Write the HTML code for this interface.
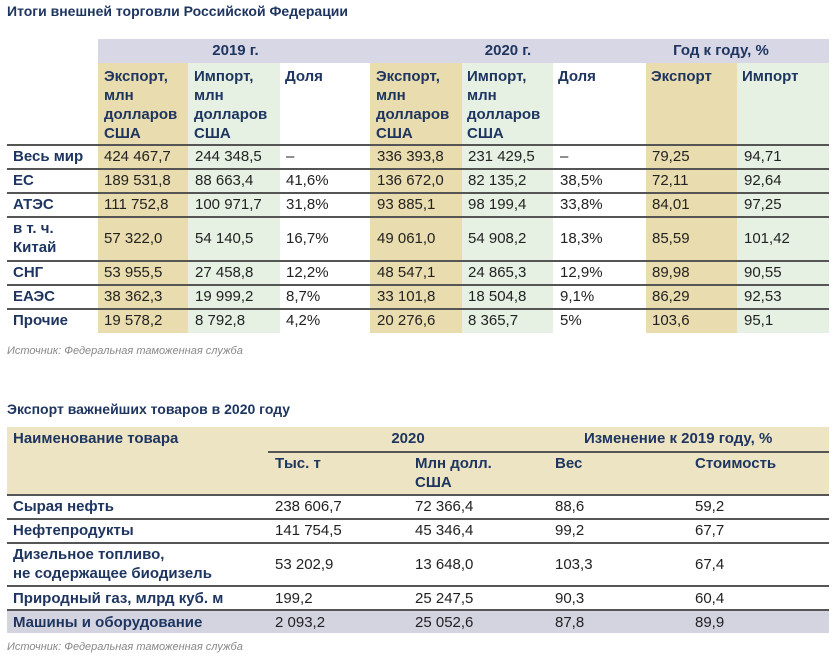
<!DOCTYPE html>
<html><head><meta charset="utf-8"><style>
body{margin:0;width:840px;height:667px;background:#fff;position:relative;overflow:hidden;font-family:"Liberation Sans","DejaVu Sans",sans-serif;}
div{position:absolute;white-space:nowrap;}
.t{font-size:15px;line-height:19px;color:#222;}
.h{font-size:15px;line-height:19px;color:#1e3560;font-weight:bold;}
.ln{height:1.5px;background:#555;left:7px;width:822px;}
.src{font-size:11px;font-style:italic;color:#888;}
</style></head><body>
<div class="h" style="left:7px;top:2px;font-size:14px;">Итоги внешней торговли Российской Федерации</div>
<!-- top header band -->
<div style="left:98px;top:39px;width:731px;height:24px;background:#d7d7e6;"></div>
<div style="left:98px;top:63px;width:90px;height:270px;background:#e9dcae;"></div>
<div style="left:188px;top:63px;width:92px;height:270px;background:#e6f1e4;"></div>
<div style="left:370px;top:63px;width:92px;height:270px;background:#e9dcae;"></div>
<div style="left:462px;top:63px;width:91px;height:270px;background:#e6f1e4;"></div>
<div style="left:646px;top:63px;width:91px;height:270px;background:#e9dcae;"></div>
<div style="left:737px;top:63px;width:92px;height:270px;background:#e6f1e4;"></div>
<div class="h" style="left:98px;width:275px;text-align:center;top:41px;">2019 г.</div>
<div class="h" style="left:370px;width:276px;text-align:center;top:41px;">2020 г.</div>
<div class="h" style="left:646px;width:150px;text-align:center;top:41px;">Год к году, %</div>
<div class="h" style="left:104px;top:67px;">Экспорт,<br>млн<br>долларов<br>США</div>
<div class="h" style="left:194px;top:67px;">Импорт,<br>млн<br>долларов<br>США</div>
<div class="h" style="left:285px;top:67px;">Доля</div>
<div class="h" style="left:376px;top:67px;">Экспорт,<br>млн<br>долларов<br>США</div>
<div class="h" style="left:467px;top:67px;">Импорт,<br>млн<br>долларов<br>США</div>
<div class="h" style="left:558px;top:67px;">Доля</div>
<div class="h" style="left:651px;top:67px;">Экспорт</div>
<div class="h" style="left:742px;top:67px;">Импорт</div>
<div class="ln" style="top:144px;"></div>
<div class="ln" style="top:168px;"></div>
<div class="ln" style="top:192px;"></div>
<div class="ln" style="top:216px;"></div>
<div class="ln" style="top:260px;"></div>
<div class="ln" style="top:284px;"></div>
<div class="ln" style="top:308px;"></div>
<!-- rows -->
<div class="h" style="left:13px;top:147px;">Весь мир</div>
<div class="h" style="left:13px;top:171px;">ЕС</div>
<div class="h" style="left:13px;top:195px;">АТЭС</div>
<div class="h" style="left:13px;top:219px;">в т. ч.<br>Китай</div>
<div class="h" style="left:13px;top:263px;">СНГ</div>
<div class="h" style="left:13px;top:287px;">ЕАЭС</div>
<div class="h" style="left:13px;top:311px;">Прочие</div>

<div class="t" style="left:104px;top:147px;">424 467,7</div>
<div class="t" style="left:104px;top:171px;">189 531,8</div>
<div class="t" style="left:104px;top:195px;">111 752,8</div>
<div class="t" style="left:104px;top:229px;">57 322,0</div>
<div class="t" style="left:104px;top:263px;">53 955,5</div>
<div class="t" style="left:104px;top:287px;">38 362,3</div>
<div class="t" style="left:104px;top:311px;">19 578,2</div>

<div class="t" style="left:195px;top:147px;">244 348,5</div>
<div class="t" style="left:195px;top:171px;">88 663,4</div>
<div class="t" style="left:195px;top:195px;">100 971,7</div>
<div class="t" style="left:195px;top:229px;">54 140,5</div>
<div class="t" style="left:195px;top:263px;">27 458,8</div>
<div class="t" style="left:195px;top:287px;">19 999,2</div>
<div class="t" style="left:195px;top:311px;">8 792,8</div>

<div class="t" style="left:286px;top:147px;">–</div>
<div class="t" style="left:286px;top:171px;">41,6%</div>
<div class="t" style="left:286px;top:195px;">31,8%</div>
<div class="t" style="left:286px;top:229px;">16,7%</div>
<div class="t" style="left:286px;top:263px;">12,2%</div>
<div class="t" style="left:286px;top:287px;">8,7%</div>
<div class="t" style="left:286px;top:311px;">4,2%</div>

<div class="t" style="left:377px;top:147px;">336 393,8</div>
<div class="t" style="left:377px;top:171px;">136 672,0</div>
<div class="t" style="left:377px;top:195px;">93 885,1</div>
<div class="t" style="left:377px;top:229px;">49 061,0</div>
<div class="t" style="left:377px;top:263px;">48 547,1</div>
<div class="t" style="left:377px;top:287px;">33 101,8</div>
<div class="t" style="left:377px;top:311px;">20 276,6</div>

<div class="t" style="left:468px;top:147px;">231 429,5</div>
<div class="t" style="left:468px;top:171px;">82 135,2</div>
<div class="t" style="left:468px;top:195px;">98 199,4</div>
<div class="t" style="left:468px;top:229px;">54 908,2</div>
<div class="t" style="left:468px;top:263px;">24 865,3</div>
<div class="t" style="left:468px;top:287px;">18 504,8</div>
<div class="t" style="left:468px;top:311px;">8 365,7</div>

<div class="t" style="left:560px;top:147px;">–</div>
<div class="t" style="left:560px;top:171px;">38,5%</div>
<div class="t" style="left:560px;top:195px;">33,8%</div>
<div class="t" style="left:560px;top:229px;">18,3%</div>
<div class="t" style="left:560px;top:263px;">12,9%</div>
<div class="t" style="left:560px;top:287px;">9,1%</div>
<div class="t" style="left:560px;top:311px;">5%</div>

<div class="t" style="left:652px;top:147px;">79,25</div>
<div class="t" style="left:652px;top:171px;">72,11</div>
<div class="t" style="left:652px;top:195px;">84,01</div>
<div class="t" style="left:652px;top:229px;">85,59</div>
<div class="t" style="left:652px;top:263px;">89,98</div>
<div class="t" style="left:652px;top:287px;">86,29</div>
<div class="t" style="left:652px;top:311px;">103,6</div>

<div class="t" style="left:744px;top:147px;">94,71</div>
<div class="t" style="left:744px;top:171px;">92,64</div>
<div class="t" style="left:744px;top:195px;">97,25</div>
<div class="t" style="left:744px;top:229px;">101,42</div>
<div class="t" style="left:744px;top:263px;">90,55</div>
<div class="t" style="left:744px;top:287px;">92,53</div>
<div class="t" style="left:744px;top:311px;">95,1</div>

<div class="src" style="left:7px;top:345px;">Источник: Федеральная таможенная служба</div>

<!-- second table -->
<div class="h" style="left:7px;top:400px;font-size:14px;">Экспорт важнейших товаров в 2020 году</div>
<div style="left:7px;top:427px;width:822px;height:67px;background:#ede4c3;"></div>
<div style="left:268px;top:451px;width:561px;height:1.5px;background:#555;"></div>
<div class="h" style="left:13px;top:429px;">Наименование товара</div>
<div class="h" style="left:268px;width:280px;text-align:center;top:429px;">2020</div>
<div class="h" style="left:584px;top:429px;">Изменение к 2019 году, %</div>
<div class="h" style="left:275px;top:454px;">Тыс. т</div>
<div class="h" style="left:415px;top:454px;">Млн долл.<br>США</div>
<div class="h" style="left:555px;top:454px;">Вес</div>
<div class="h" style="left:695px;top:454px;">Стоимость</div>
<div class="ln" style="top:494px;"></div>
<div class="ln" style="top:518px;"></div>
<div class="ln" style="top:542px;"></div>
<div class="ln" style="top:585px;"></div>
<div style="left:7px;top:609px;width:822px;height:24px;background:#d4d4e1;"></div>
<div class="ln" style="top:609px;"></div>

<div class="h" style="left:13px;top:497px;">Сырая нефть</div>
<div class="h" style="left:13px;top:521px;">Нефтепродукты</div>
<div class="h" style="left:13px;top:545px;">Дизельное топливо,<br>не содержащее биодизель</div>
<div class="h" style="left:13px;top:589px;">Природный газ, млрд куб. м</div>
<div class="h" style="left:13px;top:613px;">Машины и оборудование</div>

<div class="t" style="left:275px;top:497px;">238 606,7</div>
<div class="t" style="left:275px;top:521px;">141 754,5</div>
<div class="t" style="left:275px;top:555px;">53 202,9</div>
<div class="t" style="left:275px;top:589px;">199,2</div>
<div class="t" style="left:275px;top:613px;">2 093,2</div>

<div class="t" style="left:415px;top:497px;">72 366,4</div>
<div class="t" style="left:415px;top:521px;">45 346,4</div>
<div class="t" style="left:415px;top:555px;">13 648,0</div>
<div class="t" style="left:415px;top:589px;">25 247,5</div>
<div class="t" style="left:415px;top:613px;">25 052,6</div>

<div class="t" style="left:555px;top:497px;">88,6</div>
<div class="t" style="left:555px;top:521px;">99,2</div>
<div class="t" style="left:555px;top:555px;">103,3</div>
<div class="t" style="left:555px;top:589px;">90,3</div>
<div class="t" style="left:555px;top:613px;">87,8</div>

<div class="t" style="left:695px;top:497px;">59,2</div>
<div class="t" style="left:695px;top:521px;">67,7</div>
<div class="t" style="left:695px;top:555px;">67,4</div>
<div class="t" style="left:695px;top:589px;">60,4</div>
<div class="t" style="left:695px;top:613px;">89,9</div>

<div class="src" style="left:7px;top:641px;">Источник: Федеральная таможенная служба</div>
</body></html>
